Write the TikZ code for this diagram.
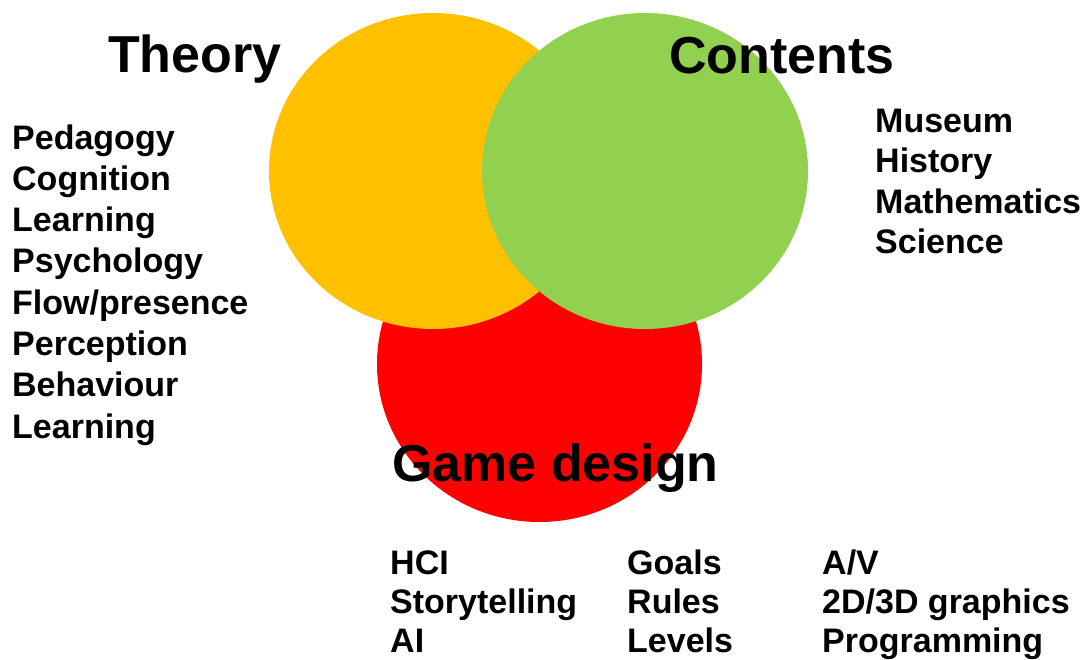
\documentclass[tikz,border=0pt]{standalone}
\usepackage{fontspec}
\setmainfont{Liberation Sans}
\definecolor{cOrange}{HTML}{FFC000}
\definecolor{cGreen}{HTML}{92D050}
\definecolor{cRed}{HTML}{FF0000}
\begin{document}
\begin{tikzpicture}[x=1pt,y=-1pt,
  title/.style={anchor=base west,inner sep=0pt,font=\fontsize{52}{52}\selectfont\bfseries},
  item/.style={anchor=base west,inner sep=0pt,font=\fontsize{34}{41}\selectfont\bfseries}]
\useasboundingbox (0,0) rectangle (1089,659);
\fill[cRed] (539.5,364) ellipse[x radius=162.5pt, y radius=158pt];
\fill[cOrange] (433,171) ellipse[x radius=164pt, y radius=158pt];
\fill[cGreen] (645,171) ellipse[x radius=163pt, y radius=158pt];
\node[title] (theory) at (108,72) {Theory};
\node[title] (contents) at (669,73) {Contents};
\node[title] (game) at (392,481) {Game design};
\foreach \t [count=\i from 0] in {Pedagogy,Cognition,Learning,Psychology,Flow/presence,Perception,Behaviour,Learning}
  \node[item] (L\i) at (12,149+41.3*\i) {\t};
\foreach \t [count=\i from 0] in {Museum,History,Mathematics,Science}
  \node[item] (C\i) at (875,132+40.5*\i) {\t};
\foreach \t [count=\i from 0] in {HCI,Storytelling,AI}
  \node[item] (G\i) at (390,574+39*\i) {\t};
\foreach \t [count=\i from 0] in {Goals,Rules,Levels}
  \node[item] (R\i) at (627,574+39*\i) {\t};
\foreach \t [count=\i from 0] in {A/V,2D/3D graphics,Programming}
  \node[item] (P\i) at (822,574+39*\i) {\t};
\end{tikzpicture}
\end{document}
